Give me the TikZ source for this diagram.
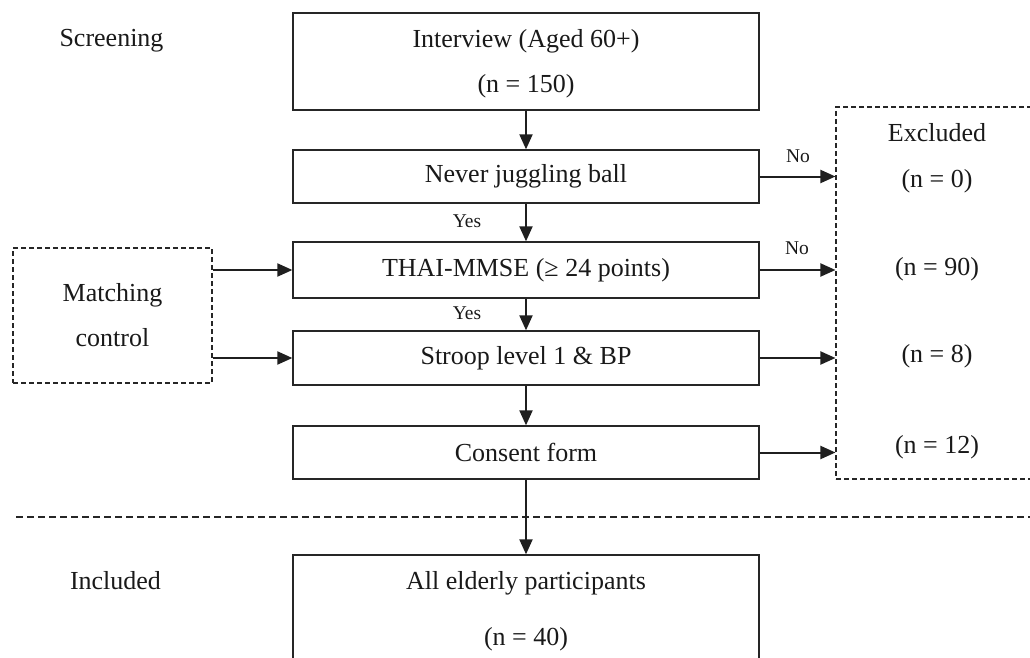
\documentclass[tikz,border=0pt]{standalone}
\usepackage{fontspec}
\setmainfont{Liberation Serif}
\usetikzlibrary{arrows.meta}
\begin{document}
\begin{tikzpicture}[x=1pt,y=-1pt,
  font=\fontsize{26}{30}\selectfont,
  box/.style={draw=black!85,line width=1.3pt,minimum width=466pt,inner sep=0pt,align=center,text=black!90},
  dbox/.style={draw=black!85,line width=1.1pt,dash pattern=on 5pt off 3pt,inner sep=0pt},
  arr/.style={line width=2pt,draw=black!88,-{Triangle[length=15pt,width=13pt]}},
  small/.style={font=\fontsize{19.5}{22}\selectfont},
  lbl/.style={anchor=base,text=black!90}]
\useasboundingbox (0,0) rectangle (1030,658);
\clip (0,0) rectangle (1030,658);
% main column
\node[box,minimum height=97pt,font=\fontsize{26}{45}\selectfont] (b1) at (526,61.5) {\rule{0pt}{23pt}Interview (Aged 60+)\\(n = 150)};
\node[box,minimum height=53pt] (b2) at (526,176.5) {Never juggling ball};
\node[box,minimum height=56pt] (b3) at (526,270) {THAI-MMSE (≥ 24 points)};
\node[box,minimum height=54pt] (b4) at (526,358) {Stroop level 1 \& BP};
\node[box,minimum height=53pt] (b5) at (526,452.5) {Consent form};
\node[box,minimum height=112pt,font=\fontsize{26}{56}\selectfont] (b6) at (526,611) {All elderly participants\\(n = 40)};
% dashed boxes
\node[dbox,minimum width=204pt,minimum height=372pt] (excl) at (938,293) {};
\node[dbox,minimum width=199pt,minimum height=135pt,align=center,text=black!90,font=\fontsize{26}{45}\selectfont] (match) at (112.5,315.5) {Matching\\control};
% separator
\coordinate (sepL) at (16,517);
\coordinate (sepR) at (1030,517);
\draw[draw=black!85,line width=1.1pt,dash pattern=on 7pt off 4pt] (sepL) -- (sepR);
% vertical arrows
\draw[arr] (b1) -- (b2);
\draw[arr] (b2) -- (b3);
\draw[arr] (b3) -- (b4);
\draw[arr] (b4) -- (b5);
\draw[arr] (b5) -- (b6);
% to excluded
\draw[arr] (b2.east) -- (b2.east -| excl.west);
\draw[arr] (b3.east) -- (b3.east -| excl.west);
\draw[arr] (b4.east) -- (b4.east -| excl.west);
\draw[arr] (b5.east) -- (b5.east -| excl.west);
% from matching
\draw[arr] (match.east |- b3.west) -- (b3.west);
\draw[arr] (match.east |- b4.west) -- (b4.west);
% labels
\node[lbl] (scr) at (111.5,47) {Screening};
\node[lbl] (inc) at (115.5,589) {Included};
\node[lbl,small] (y1) at (467,227) {Yes};
\node[lbl,small] (y2) at (467,319) {Yes};
\node[lbl,small] (n1) at (798,162) {No};
\node[lbl,small] (n2) at (797,254) {No};
\node[lbl] (e0) at (937,142) {Excluded};
\node[lbl] (e1) at (937,187) {(n = 0)};
\node[lbl] (e2) at (937,275) {(n = 90)};
\node[lbl] (e3) at (937,362) {(n = 8)};
\node[lbl] (e4) at (937,453) {(n = 12)};
\end{tikzpicture}
\end{document}
